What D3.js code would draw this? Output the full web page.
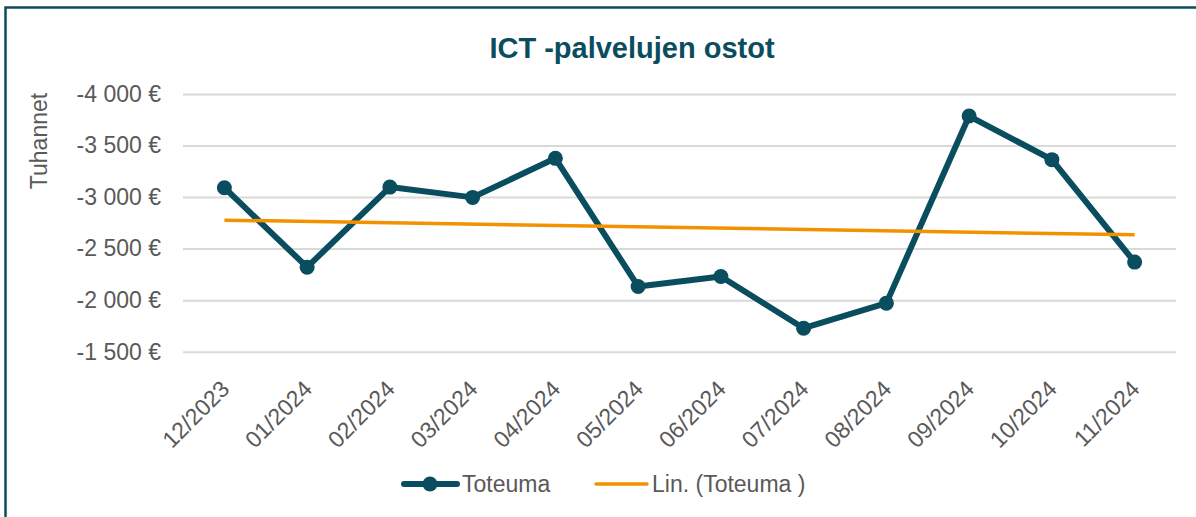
<!DOCTYPE html>
<html>
<head>
<meta charset="utf-8">
<script src="https://cdn.jsdelivr.net/npm/d3@7"></script>
<style>
    html, body { margin: 0; background: #fff; overflow: hidden; }
    svg { display: block; }
    text { font-family: "Liberation Sans", Arial, sans-serif; }
</style>
</head>
<body>
<div id="chart"></div>
<script>
// data
var months = ["12/2023", "01/2024", "02/2024", "03/2024", "04/2024", "05/2024",
              "06/2024", "07/2024", "08/2024", "09/2024", "10/2024", "11/2024"];
var toteuma = [-3091, -2320, -3097, -2997, -3376, -2133, -2230, -1728, -1971, -3786, -3363, -2369];
var yTicks = [-4000, -3500, -3000, -2500, -2000, -1500];

(function (d3) {
    "use strict";

    var W = 1196, H = 517;
    var teal = "#0a4d5e";
    var orange = "#f39200";
    var grey = "#595959";

    var svg = d3.select("#chart").append("svg")
        .attr("width", W)
        .attr("height", H);

    // outer border (right and bottom are cut off in the reference)
    svg.append("path")
        .attr("d", "M5.5," + H + "V7.5H" + W)
        .attr("fill", "none")
        .attr("stroke", teal)
        .attr("stroke-width", 2.5);

    // scales
    var x = d3.scaleBand().domain(months).range([183, 1176]);
    var y = d3.scaleLinear().domain([-4000, -1500]).range([94, 351.7]);
    var cx = function (m) { return x(m) + x.bandwidth() / 2; };

    var locale = d3.formatLocale({
        decimal: ",", thousands: " ", grouping: [3], currency: ["", " €"], minus: "-"
    });
    var fmt = locale.format("$,.0f");

    // title
    svg.append("text")
        .attr("x", 632).attr("y", 58)
        .attr("text-anchor", "middle")
        .attr("font-size", 29)
        .attr("font-weight", "bold")
        .attr("fill", teal)
        .text("ICT -palvelujen ostot");

    // grid + y axis
    var yAxis = d3.axisLeft(y).tickValues(yTicks).tickFormat(fmt)
        .tickSize(-(1176 - 183)).tickPadding(22);
    var gy = svg.append("g")
        .attr("transform", "translate(183,0)")
        .call(yAxis);
    gy.select(".domain").remove();
    gy.selectAll(".tick line").attr("stroke", "#d9d9d9").attr("stroke-width", 2);
    gy.selectAll(".tick text")
        .attr("fill", grey)
        .attr("font-size", 23)
        .attr("font-family", "Liberation Sans, Arial, sans-serif");

    // y axis title
    svg.append("text")
        .attr("transform", "translate(47,141)rotate(-90)")
        .attr("text-anchor", "middle")
        .attr("font-size", 23)
        .attr("fill", grey)
        .text("Tuhannet");

    // x labels
    svg.append("g").selectAll("text")
        .data(months)
        .enter().append("text")
        .attr("transform", function (d) {
            return "translate(" + (cx(d) - 5) + ",379)rotate(-45)";
        })
        .attr("text-anchor", "end")
        .attr("dy", "0.7em")
        .attr("font-size", 23)
        .attr("fill", grey)
        .text(function (d) { return d; });

    // series
    var pts = months.map(function (m, i) { return { m: m, v: toteuma[i] }; });
    var line = d3.line()
        .x(function (d) { return cx(d.m); })
        .y(function (d) { return y(d.v); });

    svg.append("path")
        .datum(pts)
        .attr("fill", "none")
        .attr("stroke", teal)
        .attr("stroke-width", 6)
        .attr("stroke-linejoin", "round")
        .attr("d", line);

    // linear trend (least squares, as Excel's "Lin.")
    var n = toteuma.length;
    var mx = (n + 1) / 2, my = d3.mean(toteuma);
    var sxy = d3.sum(toteuma, function (v, i) { return (i + 1 - mx) * (v - my); });
    var sxx = d3.sum(toteuma, function (v, i) { return (i + 1 - mx) * (i + 1 - mx); });
    var slope = sxy / sxx;
    var trend = [pts[0], pts[n - 1]].map(function (d) {
        var i = months.indexOf(d.m) + 1;
        return { m: d.m, v: my + slope * (i - mx) };
    });
    svg.append("path")
        .datum(trend)
        .attr("fill", "none")
        .attr("stroke", orange)
        .attr("stroke-width", 3.5)
        .attr("d", line);

    svg.append("g").selectAll("circle")
        .data(pts)
        .enter().append("circle")
        .attr("cx", function (d) { return cx(d.m); })
        .attr("cy", function (d) { return y(d.v); })
        .attr("r", 7.5)
        .attr("fill", teal);

    // legend
    var lg = svg.append("g").attr("transform", "translate(0,484)");
    lg.append("line")
        .attr("x1", 404).attr("x2", 457)
        .attr("stroke", teal).attr("stroke-width", 6).attr("stroke-linecap", "round");
    lg.append("circle").attr("cx", 430).attr("r", 7.5).attr("fill", teal);
    lg.append("text")
        .attr("x", 462).attr("dy", "0.35em")
        .attr("font-size", 23).attr("fill", grey)
        .text("Toteuma");
    lg.append("line")
        .attr("x1", 596).attr("x2", 647)
        .attr("stroke", orange).attr("stroke-width", 3.5).attr("stroke-linecap", "round");
    lg.append("text")
        .attr("x", 652).attr("dy", "0.35em")
        .attr("font-size", 23).attr("fill", grey)
        .text("Lin. (Toteuma )");

})(d3);
</script>
</body>
</html>
